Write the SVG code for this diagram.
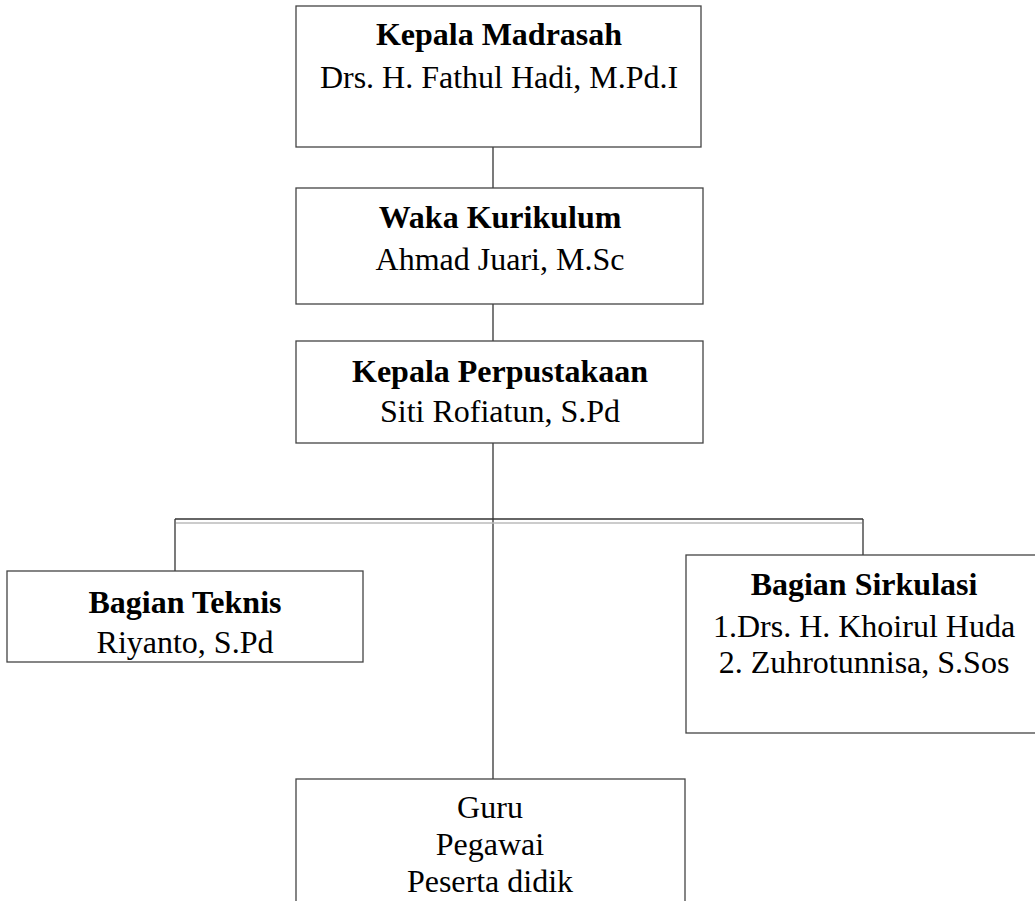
<svg xmlns="http://www.w3.org/2000/svg" width="1035" height="901" viewBox="0 0 1035 901">
<style>
.box{fill:#fff;stroke:#444;stroke-width:1.3}
.ln{stroke:#333;stroke-width:1.3;fill:none}
.lt{stroke:#bbb;stroke-width:1.5;fill:none}
text{font-family:"Liberation Serif","Times New Roman",serif;font-size:32px;fill:#000;text-anchor:middle}
.b{font-weight:bold}
</style>
<rect width="1035" height="901" fill="#fff"/>
<g id="connectors">
<line class="ln" x1="493" y1="147" x2="493" y2="188"/>
<line class="ln" x1="493" y1="304" x2="493" y2="341"/>
<line class="ln" x1="493" y1="443" x2="493" y2="779"/>
<line class="ln" x1="175" y1="519" x2="863" y2="519"/>
<line class="lt" x1="176" y1="523" x2="862" y2="523"/>
<line class="ln" x1="175" y1="519" x2="175" y2="571"/>
<line class="ln" x1="863" y1="519" x2="863" y2="555"/>
</g>
<g id="kepala-madrasah">
<rect class="box" x="296" y="6" width="405" height="141"/>
<text class="b" x="499" y="45">Kepala Madrasah</text>
<text x="499" y="88">Drs. H. Fathul Hadi, M.Pd.I</text>
</g>
<g id="waka-kurikulum">
<rect class="box" x="296" y="188" width="407" height="116"/>
<text class="b" x="500" y="228">Waka Kurikulum</text>
<text x="500" y="270">Ahmad Juari, M.Sc</text>
</g>
<g id="kepala-perpustakaan">
<rect class="box" x="296" y="341" width="407" height="102"/>
<text class="b" x="500" y="382">Kepala Perpustakaan</text>
<text x="500" y="422">Siti Rofiatun, S.Pd</text>
</g>
<g id="bagian-teknis">
<rect class="box" x="7" y="571" width="356" height="91"/>
<text class="b" x="185" y="613">Bagian Teknis</text>
<text x="185" y="653">Riyanto, S.Pd</text>
</g>
<g id="bagian-sirkulasi">
<rect class="box" x="686" y="555" width="360" height="178"/>
<text class="b" x="864" y="595">Bagian Sirkulasi</text>
<text x="864" y="637">1.Drs. H. Khoirul Huda</text>
<text x="864" y="673">2. Zuhrotunnisa, S.Sos</text>
</g>
<g id="guru-pegawai">
<rect class="box" x="296" y="779" width="389" height="130"/>
<text x="490" y="818">Guru</text>
<text x="490" y="855">Pegawai</text>
<text x="490" y="892">Peserta didik</text>
</g>
</svg>
